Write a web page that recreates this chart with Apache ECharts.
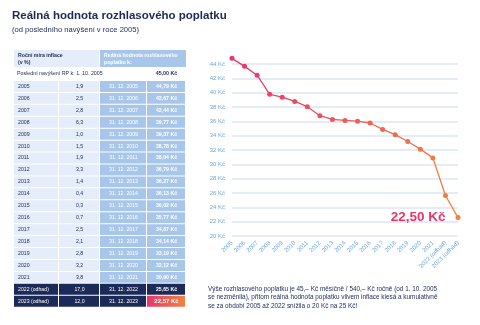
<!DOCTYPE html>
<html><head><meta charset="utf-8">
<script src="https://cdn.jsdelivr.net/npm/echarts@6/dist/echarts.min.js"></script>
<style>html,body{margin:0;padding:0;background:#fff}#c{width:480px;height:325px}</style>
</head><body><div id="c"></div>
<script>
// ---- data ----
const categories = ['2005','2006','2007','2008','2009','2010','2011','2012','2013','2014','2015','2016','2017','2018','2019','2020','2021','2022 (odhad)','2023 (odhad)'];
const inflation = [1.9,2.5,2.8,6.3,1.0,1.5,1.9,3.3,1.4,0.4,0.3,0.7,2.5,2.1,2.8,3.2,3.8,17.0,12.0];
const realValues = [44.79,43.67,42.44,39.77,39.37,38.78,38.04,36.79,36.27,36.13,36.02,35.77,34.87,34.14,33.19,32.12,30.90,25.65,22.57];
const startValue = 45.00;
const estimateRows = ['2022 (odhad)','2023 (odhad)'];
const yMin = 20, yMax = 44, yStep = 2;
const endLabel = '22,50 Kč';
const titleText = 'Reálná hodnota rozhlasového poplatku';
const subtitleText = '(od posledního navýšení v roce 2005)';
const noteLines = [
  'Výše rozhlasového poplatku je 45,– Kč měsíčně / 540,– Kč ročně (od 1. 10. 2005',
  'se nezměnila), přitom reálná hodnota poplatku vlivem inflace klesá a kumulativně',
  'se za období 2005 až 2022 snížila o 20 Kč na 25 Kč!'
];

// ---- styling ----
const FONT = '"Liberation Sans", Arial, sans-serif';
const NAVY = '#1b2a57';
const LIGHT = '#e4edf9';
const MID = '#a8c6ea';
const PINK = '#e8366d';
const ORANGE = '#f0843e';
const AXIS = '#6ea8dc';

const fmtKc = v => v.toFixed(2).replace('.', ',') + ' Kč';
const fmt1 = v => v.toFixed(1).replace('.', ',');

const g = [];
g.push({type:'text', left:12, top:10, style:{text:titleText, font:'bold 11.5px '+FONT, fill:NAVY}});
g.push({type:'text', left:12, top:26, style:{text:subtitleText, font:'7.6px '+FONT, fill:NAVY}});

// table layout
const cx = [14, 59, 100, 147, 186];
const hdrTop = 50, hdrH = 18;
const lastTop = 68, lastH = 12;
const rowTop = 81, rowH = 11.93;
// header
g.push({type:'rect', shape:{x:cx[0], y:hdrTop, width:cx[2]-cx[0]-1, height:hdrH-1}, style:{fill:LIGHT}});
g.push({type:'rect', shape:{x:cx[2], y:hdrTop, width:cx[4]-cx[2], height:hdrH-1}, style:{fill:MID}});
g.push({type:'text', x:18, y:hdrTop+2.5, style:{text:'Roční míra inflace\n(v %)', font:'bold 5.2px '+FONT, fill:NAVY, lineHeight:7}});
g.push({type:'text', x:cx[2]+4, y:hdrTop+2.5, style:{text:'Reálná hodnota rozhlasového\npoplatku k:', font:'bold 5.2px '+FONT, fill:'#ffffff', lineHeight:7}});
// last increase row
g.push({type:'text', x:17, y:lastTop+lastH/2, style:{text:'Poslední navýšení RP k: 1. 10. 2005', font:'5.3px '+FONT, fill:NAVY, verticalAlign:'middle'}});
g.push({type:'text', x:(cx[3]+cx[4])/2, y:lastTop+lastH/2, style:{text:fmtKc(startValue), font:'bold 5.3px '+FONT, fill:NAVY, align:'center', verticalAlign:'middle'}});

categories.forEach((cat, i) => {
  const y = rowTop + i*rowH;
  const est = estimateRows.includes(cat);
  const last = i === categories.length - 1;
  const fills = est ? [NAVY, NAVY, NAVY, NAVY] : [LIGHT, LIGHT, MID, MID];
  for (let c = 0; c < 4; c++) {
    let fill = fills[c];
    if (last && c === 3) fill = new echarts.graphic.LinearGradient(0,0,1,0,[{offset:0,color:PINK},{offset:1,color:ORANGE}]);
    g.push({type:'rect', shape:{x:cx[c], y:y, width:cx[c+1]-cx[c]-1, height:rowH-1}, style:{fill:fill}});
  }
  const tc = est ? '#ffffff' : NAVY;
  const midY = y + (rowH-1)/2;
  g.push({type:'text', x:18, y:midY, style:{text:cat, font:'5.2px '+FONT, fill:tc, verticalAlign:'middle'}});
  g.push({type:'text', x:(cx[1]+cx[2])/2, y:midY, style:{text:fmt1(inflation[i]), font:'5.2px '+FONT, fill:tc, align:'center', verticalAlign:'middle'}});
  g.push({type:'text', x:(cx[2]+cx[3])/2, y:midY, style:{text:'31. 12. ' + cat.slice(0,4), font:'5.2px '+FONT, fill:'#ffffff', align:'center', verticalAlign:'middle'}});
  g.push({type:'text', x:(cx[3]+cx[4])/2, y:midY, style:{text:fmtKc(realValues[i]), font:(last?'bold 6px ':'bold 5.2px ')+FONT, fill:'#ffffff', align:'center', verticalAlign:'middle'}});
});

// note
g.push({type:'text', x:208, y:285, style:{text:noteLines.join('\n'), font:'6.4px '+FONT, fill:NAVY, lineHeight:8.3}});

const chart = echarts.init(document.getElementById('c'), null, {renderer:'canvas'});
chart.setOption({
  animation:false,
  backgroundColor:'#ffffff',
  grid:{left:232, right:22, top:64, bottom:89},
  xAxis:{type:'category', data:categories, boundaryGap:false,
    axisLine:{show:false}, axisTick:{show:false},
    axisLabel:{rotate:45, fontSize:6, color:AXIS, fontFamily:FONT, margin:6, interval:0}},
  yAxis:{type:'value', min:yMin, max:yMax, interval:yStep,
    axisLabel:{formatter:v => v + ' Kč', fontSize:6, color:AXIS, fontFamily:FONT, margin:7},
    splitLine:{lineStyle:{color:'#dae6f5', width:1.5}}},
  visualMap:{show:false, type:'continuous', dimension:0, min:0, max:categories.length-1,
    inRange:{color:[PINK, '#ec5a5a', ORANGE]}},
  series:[{type:'line', data:realValues, clip:false, symbol:'circle', symbolSize:5,
    lineStyle:{width:1.3},
    label:{show:true, formatter:p => p.dataIndex === realValues.length-1 ? endLabel : '',
      position:'left', distance:10, color:PINK, fontWeight:'bold', fontSize:13.5, fontFamily:FONT}}],
  graphic:g
});
</script></body></html>
